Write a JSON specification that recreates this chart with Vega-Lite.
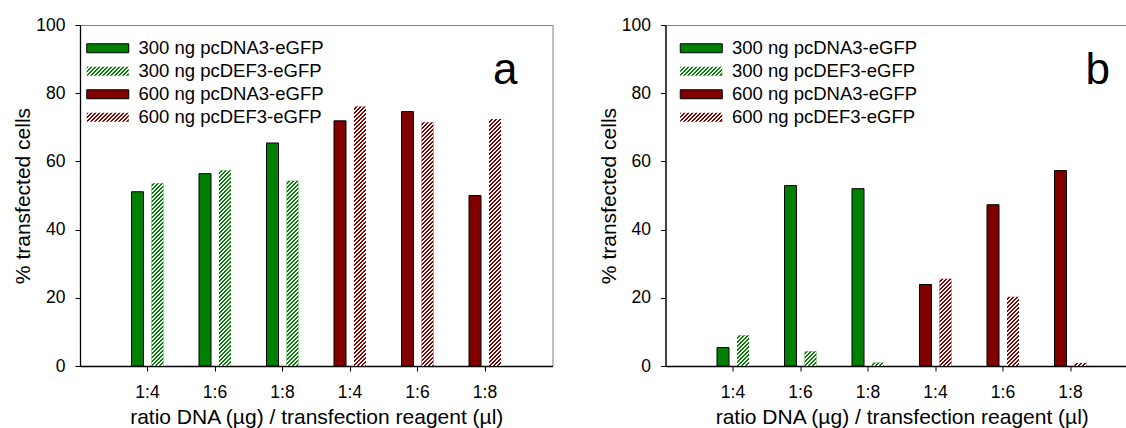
{
"$schema": "https://vega.github.io/schema/vega-lite/v6.json",
"background": "white",
"padding": {"left": 12, "top": 15, "right": 0, "bottom": 0},
"params": [
{"name": "gG", "value": {"gradient": "linear", "x1": 0, "y1": 0, "x2": 1.1382, "y2": 0.2439, "stops": [
 {"offset":0,"color":"#008000"},{"offset":0.04,"color":"#008000"},{"offset":0.04,"color":"#fff"},{"offset":0.08,"color":"#fff"},
 {"offset":0.08,"color":"#008000"},{"offset":0.12,"color":"#008000"},{"offset":0.12,"color":"#fff"},{"offset":0.16,"color":"#fff"},
 {"offset":0.16,"color":"#008000"},{"offset":0.2,"color":"#008000"},{"offset":0.2,"color":"#fff"},{"offset":0.24,"color":"#fff"},
 {"offset":0.24,"color":"#008000"},{"offset":0.28,"color":"#008000"},{"offset":0.28,"color":"#fff"},{"offset":0.32,"color":"#fff"},
 {"offset":0.32,"color":"#008000"},{"offset":0.36,"color":"#008000"},{"offset":0.36,"color":"#fff"},{"offset":0.4,"color":"#fff"},
 {"offset":0.4,"color":"#008000"},{"offset":0.44,"color":"#008000"},{"offset":0.44,"color":"#fff"},{"offset":0.48,"color":"#fff"},
 {"offset":0.48,"color":"#008000"},{"offset":0.52,"color":"#008000"},{"offset":0.52,"color":"#fff"},{"offset":0.56,"color":"#fff"},
 {"offset":0.56,"color":"#008000"},{"offset":0.6,"color":"#008000"},{"offset":0.6,"color":"#fff"},{"offset":0.64,"color":"#fff"},
 {"offset":0.64,"color":"#008000"},{"offset":0.68,"color":"#008000"},{"offset":0.68,"color":"#fff"},{"offset":0.72,"color":"#fff"},
 {"offset":0.72,"color":"#008000"},{"offset":0.76,"color":"#008000"},{"offset":0.76,"color":"#fff"},{"offset":0.8,"color":"#fff"},
 {"offset":0.8,"color":"#008000"},{"offset":0.84,"color":"#008000"},{"offset":0.84,"color":"#fff"},{"offset":0.88,"color":"#fff"},
 {"offset":0.88,"color":"#008000"},{"offset":0.92,"color":"#008000"},{"offset":0.92,"color":"#fff"},{"offset":0.96,"color":"#fff"},
 {"offset":0.96,"color":"#008000"},{"offset":1,"color":"#008000"}]}},
{"name": "gR", "value": {"gradient": "linear", "x1": 0, "y1": 0, "x2": 1.1382, "y2": 0.2439, "stops": [
 {"offset":0,"color":"#800000"},{"offset":0.04,"color":"#800000"},{"offset":0.04,"color":"#fff"},{"offset":0.08,"color":"#fff"},
 {"offset":0.08,"color":"#800000"},{"offset":0.12,"color":"#800000"},{"offset":0.12,"color":"#fff"},{"offset":0.16,"color":"#fff"},
 {"offset":0.16,"color":"#800000"},{"offset":0.2,"color":"#800000"},{"offset":0.2,"color":"#fff"},{"offset":0.24,"color":"#fff"},
 {"offset":0.24,"color":"#800000"},{"offset":0.28,"color":"#800000"},{"offset":0.28,"color":"#fff"},{"offset":0.32,"color":"#fff"},
 {"offset":0.32,"color":"#800000"},{"offset":0.36,"color":"#800000"},{"offset":0.36,"color":"#fff"},{"offset":0.4,"color":"#fff"},
 {"offset":0.4,"color":"#800000"},{"offset":0.44,"color":"#800000"},{"offset":0.44,"color":"#fff"},{"offset":0.48,"color":"#fff"},
 {"offset":0.48,"color":"#800000"},{"offset":0.52,"color":"#800000"},{"offset":0.52,"color":"#fff"},{"offset":0.56,"color":"#fff"},
 {"offset":0.56,"color":"#800000"},{"offset":0.6,"color":"#800000"},{"offset":0.6,"color":"#fff"},{"offset":0.64,"color":"#fff"},
 {"offset":0.64,"color":"#800000"},{"offset":0.68,"color":"#800000"},{"offset":0.68,"color":"#fff"},{"offset":0.72,"color":"#fff"},
 {"offset":0.72,"color":"#800000"},{"offset":0.76,"color":"#800000"},{"offset":0.76,"color":"#fff"},{"offset":0.8,"color":"#fff"},
 {"offset":0.8,"color":"#800000"},{"offset":0.84,"color":"#800000"},{"offset":0.84,"color":"#fff"},{"offset":0.88,"color":"#fff"},
 {"offset":0.88,"color":"#800000"},{"offset":0.92,"color":"#800000"},{"offset":0.92,"color":"#fff"},{"offset":0.96,"color":"#fff"},
 {"offset":0.96,"color":"#800000"},{"offset":1,"color":"#800000"}]}},
{"name": "hs", "value": [
{"offset":0,"color":"#fff"},{"offset":0.005,"color":"#fff"},{"offset":0.005,"color":"#fff0"},{"offset":0.01,"color":"#fff0"},
{"offset":0.01,"color":"#fff"},{"offset":0.015,"color":"#fff"},{"offset":0.015,"color":"#fff0"},{"offset":0.02,"color":"#fff0"},
{"offset":0.02,"color":"#fff"},{"offset":0.025,"color":"#fff"},{"offset":0.025,"color":"#fff0"},{"offset":0.03,"color":"#fff0"},
{"offset":0.03,"color":"#fff"},{"offset":0.035,"color":"#fff"},{"offset":0.035,"color":"#fff0"},{"offset":0.04,"color":"#fff0"},
{"offset":0.04,"color":"#fff"},{"offset":0.045,"color":"#fff"},{"offset":0.045,"color":"#fff0"},{"offset":0.05,"color":"#fff0"},
{"offset":0.05,"color":"#fff"},{"offset":0.055,"color":"#fff"},{"offset":0.055,"color":"#fff0"},{"offset":0.06,"color":"#fff0"},
{"offset":0.06,"color":"#fff"},{"offset":0.065,"color":"#fff"},{"offset":0.065,"color":"#fff0"},{"offset":0.07,"color":"#fff0"},
{"offset":0.07,"color":"#fff"},{"offset":0.075,"color":"#fff"},{"offset":0.075,"color":"#fff0"},{"offset":0.08,"color":"#fff0"},
{"offset":0.08,"color":"#fff"},{"offset":0.085,"color":"#fff"},{"offset":0.085,"color":"#fff0"},{"offset":0.09,"color":"#fff0"},
{"offset":0.09,"color":"#fff"},{"offset":0.095,"color":"#fff"},{"offset":0.095,"color":"#fff0"},{"offset":0.1,"color":"#fff0"},
{"offset":0.1,"color":"#fff"},{"offset":0.105,"color":"#fff"},{"offset":0.105,"color":"#fff0"},{"offset":0.11,"color":"#fff0"},
{"offset":0.11,"color":"#fff"},{"offset":0.115,"color":"#fff"},{"offset":0.115,"color":"#fff0"},{"offset":0.12,"color":"#fff0"},
{"offset":0.12,"color":"#fff"},{"offset":0.125,"color":"#fff"},{"offset":0.125,"color":"#fff0"},{"offset":0.13,"color":"#fff0"},
{"offset":0.13,"color":"#fff"},{"offset":0.135,"color":"#fff"},{"offset":0.135,"color":"#fff0"},{"offset":0.14,"color":"#fff0"},
{"offset":0.14,"color":"#fff"},{"offset":0.145,"color":"#fff"},{"offset":0.145,"color":"#fff0"},{"offset":0.15,"color":"#fff0"},
{"offset":0.15,"color":"#fff"},{"offset":0.155,"color":"#fff"},{"offset":0.155,"color":"#fff0"},{"offset":0.16,"color":"#fff0"},
{"offset":0.16,"color":"#fff"},{"offset":0.165,"color":"#fff"},{"offset":0.165,"color":"#fff0"},{"offset":0.17,"color":"#fff0"},
{"offset":0.17,"color":"#fff"},{"offset":0.175,"color":"#fff"},{"offset":0.175,"color":"#fff0"},{"offset":0.18,"color":"#fff0"},
{"offset":0.18,"color":"#fff"},{"offset":0.185,"color":"#fff"},{"offset":0.185,"color":"#fff0"},{"offset":0.19,"color":"#fff0"},
{"offset":0.19,"color":"#fff"},{"offset":0.195,"color":"#fff"},{"offset":0.195,"color":"#fff0"},{"offset":0.2,"color":"#fff0"},
{"offset":0.2,"color":"#fff"},{"offset":0.205,"color":"#fff"},{"offset":0.205,"color":"#fff0"},{"offset":0.21,"color":"#fff0"},
{"offset":0.21,"color":"#fff"},{"offset":0.215,"color":"#fff"},{"offset":0.215,"color":"#fff0"},{"offset":0.22,"color":"#fff0"},
{"offset":0.22,"color":"#fff"},{"offset":0.225,"color":"#fff"},{"offset":0.225,"color":"#fff0"},{"offset":0.23,"color":"#fff0"},
{"offset":0.23,"color":"#fff"},{"offset":0.235,"color":"#fff"},{"offset":0.235,"color":"#fff0"},{"offset":0.24,"color":"#fff0"},
{"offset":0.24,"color":"#fff"},{"offset":0.245,"color":"#fff"},{"offset":0.245,"color":"#fff0"},{"offset":0.25,"color":"#fff0"},
{"offset":0.25,"color":"#fff"},{"offset":0.255,"color":"#fff"},{"offset":0.255,"color":"#fff0"},{"offset":0.26,"color":"#fff0"},
{"offset":0.26,"color":"#fff"},{"offset":0.265,"color":"#fff"},{"offset":0.265,"color":"#fff0"},{"offset":0.27,"color":"#fff0"},
{"offset":0.27,"color":"#fff"},{"offset":0.275,"color":"#fff"},{"offset":0.275,"color":"#fff0"},{"offset":0.28,"color":"#fff0"},
{"offset":0.28,"color":"#fff"},{"offset":0.285,"color":"#fff"},{"offset":0.285,"color":"#fff0"},{"offset":0.29,"color":"#fff0"},
{"offset":0.29,"color":"#fff"},{"offset":0.295,"color":"#fff"},{"offset":0.295,"color":"#fff0"},{"offset":0.3,"color":"#fff0"},
{"offset":0.3,"color":"#fff"},{"offset":0.305,"color":"#fff"},{"offset":0.305,"color":"#fff0"},{"offset":0.31,"color":"#fff0"},
{"offset":0.31,"color":"#fff"},{"offset":0.315,"color":"#fff"},{"offset":0.315,"color":"#fff0"},{"offset":0.32,"color":"#fff0"},
{"offset":0.32,"color":"#fff"},{"offset":0.325,"color":"#fff"},{"offset":0.325,"color":"#fff0"},{"offset":0.33,"color":"#fff0"},
{"offset":0.33,"color":"#fff"},{"offset":0.335,"color":"#fff"},{"offset":0.335,"color":"#fff0"},{"offset":0.34,"color":"#fff0"},
{"offset":0.34,"color":"#fff"},{"offset":0.345,"color":"#fff"},{"offset":0.345,"color":"#fff0"},{"offset":0.35,"color":"#fff0"},
{"offset":0.35,"color":"#fff"},{"offset":0.355,"color":"#fff"},{"offset":0.355,"color":"#fff0"},{"offset":0.36,"color":"#fff0"},
{"offset":0.36,"color":"#fff"},{"offset":0.365,"color":"#fff"},{"offset":0.365,"color":"#fff0"},{"offset":0.37,"color":"#fff0"},
{"offset":0.37,"color":"#fff"},{"offset":0.375,"color":"#fff"},{"offset":0.375,"color":"#fff0"},{"offset":0.38,"color":"#fff0"},
{"offset":0.38,"color":"#fff"},{"offset":0.385,"color":"#fff"},{"offset":0.385,"color":"#fff0"},{"offset":0.39,"color":"#fff0"},
{"offset":0.39,"color":"#fff"},{"offset":0.395,"color":"#fff"},{"offset":0.395,"color":"#fff0"},{"offset":0.4,"color":"#fff0"},
{"offset":0.4,"color":"#fff"},{"offset":0.405,"color":"#fff"},{"offset":0.405,"color":"#fff0"},{"offset":0.41,"color":"#fff0"},
{"offset":0.41,"color":"#fff"},{"offset":0.415,"color":"#fff"},{"offset":0.415,"color":"#fff0"},{"offset":0.42,"color":"#fff0"},
{"offset":0.42,"color":"#fff"},{"offset":0.425,"color":"#fff"},{"offset":0.425,"color":"#fff0"},{"offset":0.43,"color":"#fff0"},
{"offset":0.43,"color":"#fff"},{"offset":0.435,"color":"#fff"},{"offset":0.435,"color":"#fff0"},{"offset":0.44,"color":"#fff0"},
{"offset":0.44,"color":"#fff"},{"offset":0.445,"color":"#fff"},{"offset":0.445,"color":"#fff0"},{"offset":0.45,"color":"#fff0"},
{"offset":0.45,"color":"#fff"},{"offset":0.455,"color":"#fff"},{"offset":0.455,"color":"#fff0"},{"offset":0.46,"color":"#fff0"},
{"offset":0.46,"color":"#fff"},{"offset":0.465,"color":"#fff"},{"offset":0.465,"color":"#fff0"},{"offset":0.47,"color":"#fff0"},
{"offset":0.47,"color":"#fff"},{"offset":0.475,"color":"#fff"},{"offset":0.475,"color":"#fff0"},{"offset":0.48,"color":"#fff0"},
{"offset":0.48,"color":"#fff"},{"offset":0.485,"color":"#fff"},{"offset":0.485,"color":"#fff0"},{"offset":0.49,"color":"#fff0"},
{"offset":0.49,"color":"#fff"},{"offset":0.495,"color":"#fff"},{"offset":0.495,"color":"#fff0"},{"offset":0.5,"color":"#fff0"},
{"offset":0.5,"color":"#fff"},{"offset":0.505,"color":"#fff"},{"offset":0.505,"color":"#fff0"},{"offset":0.51,"color":"#fff0"},
{"offset":0.51,"color":"#fff"},{"offset":0.515,"color":"#fff"},{"offset":0.515,"color":"#fff0"},{"offset":0.52,"color":"#fff0"},
{"offset":0.52,"color":"#fff"},{"offset":0.525,"color":"#fff"},{"offset":0.525,"color":"#fff0"},{"offset":0.53,"color":"#fff0"},
{"offset":0.53,"color":"#fff"},{"offset":0.535,"color":"#fff"},{"offset":0.535,"color":"#fff0"},{"offset":0.54,"color":"#fff0"},
{"offset":0.54,"color":"#fff"},{"offset":0.545,"color":"#fff"},{"offset":0.545,"color":"#fff0"},{"offset":0.55,"color":"#fff0"},
{"offset":0.55,"color":"#fff"},{"offset":0.555,"color":"#fff"},{"offset":0.555,"color":"#fff0"},{"offset":0.56,"color":"#fff0"},
{"offset":0.56,"color":"#fff"},{"offset":0.565,"color":"#fff"},{"offset":0.565,"color":"#fff0"},{"offset":0.57,"color":"#fff0"},
{"offset":0.57,"color":"#fff"},{"offset":0.575,"color":"#fff"},{"offset":0.575,"color":"#fff0"},{"offset":0.58,"color":"#fff0"},
{"offset":0.58,"color":"#fff"},{"offset":0.585,"color":"#fff"},{"offset":0.585,"color":"#fff0"},{"offset":0.59,"color":"#fff0"},
{"offset":0.59,"color":"#fff"},{"offset":0.595,"color":"#fff"},{"offset":0.595,"color":"#fff0"},{"offset":0.6,"color":"#fff0"},
{"offset":0.6,"color":"#fff"},{"offset":0.605,"color":"#fff"},{"offset":0.605,"color":"#fff0"},{"offset":0.61,"color":"#fff0"},
{"offset":0.61,"color":"#fff"},{"offset":0.615,"color":"#fff"},{"offset":0.615,"color":"#fff0"},{"offset":0.62,"color":"#fff0"},
{"offset":0.62,"color":"#fff"},{"offset":0.625,"color":"#fff"},{"offset":0.625,"color":"#fff0"},{"offset":0.63,"color":"#fff0"},
{"offset":0.63,"color":"#fff"},{"offset":0.635,"color":"#fff"},{"offset":0.635,"color":"#fff0"},{"offset":0.64,"color":"#fff0"},
{"offset":0.64,"color":"#fff"},{"offset":0.645,"color":"#fff"},{"offset":0.645,"color":"#fff0"},{"offset":0.65,"color":"#fff0"},
{"offset":0.65,"color":"#fff"},{"offset":0.655,"color":"#fff"},{"offset":0.655,"color":"#fff0"},{"offset":0.66,"color":"#fff0"},
{"offset":0.66,"color":"#fff"},{"offset":0.665,"color":"#fff"},{"offset":0.665,"color":"#fff0"},{"offset":0.67,"color":"#fff0"},
{"offset":0.67,"color":"#fff"},{"offset":0.675,"color":"#fff"},{"offset":0.675,"color":"#fff0"},{"offset":0.68,"color":"#fff0"}
]}],
"datasets": {
"a": [
{"cond":"300 1:4","dose":300,"plasmid":"pcDNA3","series":"300 ng pcDNA3-eGFP","pct":51.1},
{"cond":"300 1:4","dose":300,"plasmid":"pcDEF3","series":"300 ng pcDEF3-eGFP","pct":53.6},
{"cond":"300 1:6","dose":300,"plasmid":"pcDNA3","series":"300 ng pcDNA3-eGFP","pct":56.4},
{"cond":"300 1:6","dose":300,"plasmid":"pcDEF3","series":"300 ng pcDEF3-eGFP","pct":57.4},
{"cond":"300 1:8","dose":300,"plasmid":"pcDNA3","series":"300 ng pcDNA3-eGFP","pct":65.4},
{"cond":"300 1:8","dose":300,"plasmid":"pcDEF3","series":"300 ng pcDEF3-eGFP","pct":54.3},
{"cond":"600 1:4","dose":600,"plasmid":"pcDNA3","series":"600 ng pcDNA3-eGFP","pct":71.9},
{"cond":"600 1:4","dose":600,"plasmid":"pcDEF3","series":"600 ng pcDEF3-eGFP","pct":76.1},
{"cond":"600 1:6","dose":600,"plasmid":"pcDNA3","series":"600 ng pcDNA3-eGFP","pct":74.6},
{"cond":"600 1:6","dose":600,"plasmid":"pcDEF3","series":"600 ng pcDEF3-eGFP","pct":71.5},
{"cond":"600 1:8","dose":600,"plasmid":"pcDNA3","series":"600 ng pcDNA3-eGFP","pct":50.0},
{"cond":"600 1:8","dose":600,"plasmid":"pcDEF3","series":"600 ng pcDEF3-eGFP","pct":72.4}
],
"b": [
{"cond":"300 1:4","dose":300,"plasmid":"pcDNA3","series":"300 ng pcDNA3-eGFP","pct":5.4},
{"cond":"300 1:4","dose":300,"plasmid":"pcDEF3","series":"300 ng pcDEF3-eGFP","pct":9.0},
{"cond":"300 1:6","dose":300,"plasmid":"pcDNA3","series":"300 ng pcDNA3-eGFP","pct":52.9},
{"cond":"300 1:6","dose":300,"plasmid":"pcDEF3","series":"300 ng pcDEF3-eGFP","pct":4.3},
{"cond":"300 1:8","dose":300,"plasmid":"pcDNA3","series":"300 ng pcDNA3-eGFP","pct":52.0},
{"cond":"300 1:8","dose":300,"plasmid":"pcDEF3","series":"300 ng pcDEF3-eGFP","pct":1.0},
{"cond":"600 1:4","dose":600,"plasmid":"pcDNA3","series":"600 ng pcDNA3-eGFP","pct":23.9},
{"cond":"600 1:4","dose":600,"plasmid":"pcDEF3","series":"600 ng pcDEF3-eGFP","pct":25.6},
{"cond":"600 1:6","dose":600,"plasmid":"pcDNA3","series":"600 ng pcDNA3-eGFP","pct":47.3},
{"cond":"600 1:6","dose":600,"plasmid":"pcDEF3","series":"600 ng pcDEF3-eGFP","pct":20.3},
{"cond":"600 1:8","dose":600,"plasmid":"pcDNA3","series":"600 ng pcDNA3-eGFP","pct":57.3},
{"cond":"600 1:8","dose":600,"plasmid":"pcDEF3","series":"600 ng pcDEF3-eGFP","pct":0.9}
]
},
"hconcat": [
{
"width": 472.5, "height": 341,
"data": {"name": "a"},
"encoding": {
"x": {"field": "cond", "type": "nominal", "scale": {"paddingInner": 0, "paddingOuter": 0.5}, "title": "ratio DNA (µg) / transfection reagent (µl)", "axis": {"labelExpr": "split(datum.label, ' ')[1]"}},
"xOffset": {"field": "plasmid", "type": "nominal", "scale": {"domain": ["pcDNA3", "pcDEF3"], "paddingInner": 0.4, "paddingOuter": 0.8875}},
"y": {"field": "pct", "type": "quantitative", "scale": {"domain": [0, 100], "nice": false}, "title": "% transfected cells", "axis": {"values": [0, 20, 40, 60, 80, 100]}}
},
"layer": [
{"transform": [{"filter": "datum.plasmid == 'pcDNA3'"}],
 "mark": {"type": "bar", "strokeWidth": 1},
 "encoding": {
  "color": {"field": "series", "type": "nominal",
   "scale": {"domain": ["300 ng pcDNA3-eGFP", "300 ng pcDEF3-eGFP", "600 ng pcDNA3-eGFP", "600 ng pcDEF3-eGFP"], "range": ["#008000", {"expr": "gG"}, "#800000", {"expr": "gR"}]},
   "legend": {"orient": "none", "legendX": 2, "legendY": 14, "title": null, "padding": 0,
    "symbolType": "M-1,-1H8.3333V1H-1Z", "symbolSize": 81, "symbolStrokeWidth": 1,
    "labelFontSize": 18.5, "labelOffset": 38, "labelLimit": 0, "rowPadding": 4, "labelColor": "black"}},
  "stroke": {"field": "series", "type": "nominal",
   "scale": {"domain": ["300 ng pcDNA3-eGFP", "300 ng pcDEF3-eGFP", "600 ng pcDNA3-eGFP", "600 ng pcDEF3-eGFP"], "range": ["black", "transparent", "black", "transparent"]},
   "legend": {"orient": "none", "legendX": 2, "legendY": 14, "title": null, "padding": 0,
    "symbolType": "M-1,-1H8.3333V1H-1Z", "symbolSize": 81, "symbolStrokeWidth": 1,
    "labelFontSize": 18.5, "labelOffset": 38, "labelLimit": 0, "rowPadding": 4, "labelColor": "black"}}
 }},
{"transform": [{"filter": "datum.plasmid == 'pcDEF3'"}],
 "mark": {"type": "bar"},
 "encoding": {"fill": {"condition": {"test": "datum.dose == 300", "value": "#008000"}, "value": "#800000"}}},
{"transform": [{"filter": "datum.plasmid == 'pcDEF3'"}],
 "mark": {"type": "bar", "fill": {"expr": "{gradient: 'linear', x1: 0, y1: 0, x2: 4800 / (144 + pow(3.41 * datum.pct, 2)), y2: 1364 * datum.pct / (144 + pow(3.41 * datum.pct, 2)), stops: hs}"}}},
{"transform": [{"filter": "datum.cond == '600 1:8' && datum.plasmid == 'pcDEF3'"}],
 "mark": {"type": "text", "fontSize": 44, "align": "left", "baseline": "alphabetic", "fill": "black", "dx": -2},
 "encoding": {"y": {"datum": 82.7}, "text": {"value": "a"}}}
]
},
{
"width": 472.5, "height": 341,
"data": {"name": "b"},
"encoding": {
"x": {"field": "cond", "type": "nominal", "scale": {"paddingInner": 0, "paddingOuter": 0.5}, "title": "ratio DNA (µg) / transfection reagent (µl)", "axis": {"labelExpr": "split(datum.label, ' ')[1]"}},
"xOffset": {"field": "plasmid", "type": "nominal", "scale": {"domain": ["pcDNA3", "pcDEF3"], "paddingInner": 0.4, "paddingOuter": 0.8875}},
"y": {"field": "pct", "type": "quantitative", "scale": {"domain": [0, 100], "nice": false}, "title": "% transfected cells", "axis": {"values": [0, 20, 40, 60, 80, 100]}}
},
"layer": [
{"transform": [{"filter": "datum.plasmid == 'pcDNA3'"}],
 "mark": {"type": "bar", "strokeWidth": 1},
 "encoding": {
  "color": {"field": "series", "type": "nominal",
   "scale": {"domain": ["300 ng pcDNA3-eGFP", "300 ng pcDEF3-eGFP", "600 ng pcDNA3-eGFP", "600 ng pcDEF3-eGFP"], "range": ["#008000", {"expr": "gG"}, "#800000", {"expr": "gR"}]},
   "legend": {"orient": "none", "legendX": 10, "legendY": 14, "title": null, "padding": 0,
    "symbolType": "M-1,-1H8.3333V1H-1Z", "symbolSize": 81, "symbolStrokeWidth": 1,
    "labelFontSize": 18.5, "labelOffset": 38, "labelLimit": 0, "rowPadding": 4, "labelColor": "black"}},
  "stroke": {"field": "series", "type": "nominal",
   "scale": {"domain": ["300 ng pcDNA3-eGFP", "300 ng pcDEF3-eGFP", "600 ng pcDNA3-eGFP", "600 ng pcDEF3-eGFP"], "range": ["black", "transparent", "black", "transparent"]},
   "legend": {"orient": "none", "legendX": 10, "legendY": 14, "title": null, "padding": 0,
    "symbolType": "M-1,-1H8.3333V1H-1Z", "symbolSize": 81, "symbolStrokeWidth": 1,
    "labelFontSize": 18.5, "labelOffset": 38, "labelLimit": 0, "rowPadding": 4, "labelColor": "black"}}
 }},
{"transform": [{"filter": "datum.plasmid == 'pcDEF3'"}],
 "mark": {"type": "bar"},
 "encoding": {"fill": {"condition": {"test": "datum.dose == 300", "value": "#008000"}, "value": "#800000"}}},
{"transform": [{"filter": "datum.plasmid == 'pcDEF3'"}],
 "mark": {"type": "bar", "fill": {"expr": "{gradient: 'linear', x1: 0, y1: 0, x2: 4800 / (144 + pow(3.41 * datum.pct, 2)), y2: 1364 * datum.pct / (144 + pow(3.41 * datum.pct, 2)), stops: hs}"}}},
{"transform": [{"filter": "datum.cond == '600 1:8' && datum.plasmid == 'pcDEF3'"}],
 "mark": {"type": "text", "fontSize": 44, "align": "left", "baseline": "alphabetic", "fill": "black", "dx": 5},
 "encoding": {"y": {"datum": 82.7}, "text": {"value": "b"}}}
]
}
],
"spacing": 112.5,
"bounds": "flush",
"resolve": {"scale": {"color": "independent", "stroke": "independent"}, "legend": {"color": "independent", "stroke": "independent"}},
"config": {
"font": "Liberation Sans",
"view": {"stroke": "#808080", "strokeWidth": 1},
"axis": {"grid": false, "domainColor": "black", "domainWidth": 1.3, "tickColor": "black", "tickSize": 5, "labelColor": "black", "titleColor": "black", "labelFontSize": 17.5, "titleFontSize": 21, "titleFontWeight": "normal", "labelFont": "Liberation Sans", "titleFont": "Liberation Sans"},
"axisX": {"labelAngle": 0, "labelPadding": 12, "titlePadding": 6},
"axisY": {"labelPadding": 10, "titlePadding": 2},
"legend": {"labelFont": "Liberation Sans"}
}
}
